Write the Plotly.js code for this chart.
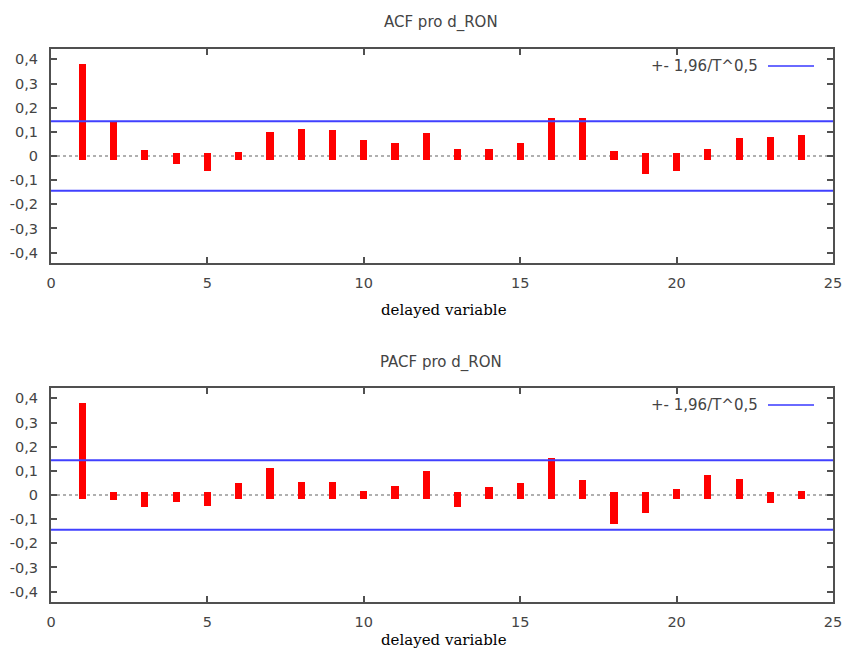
<!DOCTYPE html>
<html>
<head>
<meta charset="utf-8">
<script src="https://cdn.plot.ly/plotly-3.0.1.min.js"></script>
<style>html,body{margin:0;padding:0;background:#fff;}#chart{width:845px;height:650px;}</style>
</head>
<body>
<div id="chart"></div>
<script>
// ---- data ----
const lags = [1,2,3,4,5,6,7,8,9,10,11,12,13,14,15,16,17,18,19,20,21,22,23,24];
const acfValues = [0.365,0.130,0.010,-0.018,-0.048,0.003,0.086,0.098,0.093,0.052,0.040,0.081,
                   0.016,0.016,0.040,0.143,0.143,0.008,-0.059,-0.048,0.016,0.059,0.066,0.074];
const pacfValues = [0.366,-0.008,-0.035,-0.013,-0.030,0.034,0.099,0.040,0.040,0.003,0.023,0.086,
                    -0.035,0.018,0.035,0.140,0.046,-0.105,-0.058,0.011,0.070,0.050,-0.019,0.003];
const bound = 0.1435;          // +- 1,96/T^0,5
const titles = ['ACF pro d_RON', 'PACF pro d_RON'];
const xLabel = 'delayed variable';
const legendLabel = '+- 1,96/T^0,5';
const xTickVals = [0,5,10,15,20,25];
const yTickVals = [-0.4,-0.3,-0.2,-0.1,0,0.1,0.2,0.3,0.4];
const yTickText = ['-0,4','-0,3','-0,2','-0,1','0','0,1','0,2','0,3','0,4'];

// ---- styling ----
const W = 845, H = 650;
const cap = 0.0145;            // impulse line-cap overshoot
const px = (v) => v / W, py = (v) => 1 - v / H;
const plots = [
  {top: 49, bottom: 263, xs: 'x', ys: 'y', vals: acfValues, labelY: 310},
  {top: 388, bottom: 602, xs: 'x2', ys: 'y2', vals: pacfValues, labelY: 640}
];
const left = 51, right = 833;
const tickFont = {family: 'DejaVu Sans, sans-serif', size: 14.5, color: '#444'};
const textFont = {family: 'DejaVu Sans, sans-serif', size: 15, color: '#444'};

const traces = [];
const shapes = [];
const annotations = [];
const layout = {
  width: W, height: H,
  margin: {l: 0, r: 0, t: 0, b: 0},
  paper_bgcolor: '#fff', plot_bgcolor: '#fff',
  showlegend: false,
  bargap: 0
};

plots.forEach((p, i) => {
  const xa = i === 0 ? 'xaxis' : 'xaxis2';
  const ya = i === 0 ? 'yaxis' : 'yaxis2';
  const common = {
    showline: true, linewidth: 2, linecolor: '#505050', mirror: 'ticks',
    ticks: 'inside', ticklen: 6, tickwidth: 2, tickcolor: '#505050',
    showgrid: false, zeroline: false, tickfont: tickFont, fixedrange: true
  };
  layout[xa] = Object.assign({}, common, {
    domain: [px(left), px(right)], range: [0, 25],
    tickvals: xTickVals, ticktext: xTickVals.map(String),
    anchor: p.ys, ticklabelstandoff: 6
  });
  layout[ya] = Object.assign({}, common, {
    domain: [py(p.bottom), py(p.top)], range: [-0.443, 0.443],
    tickvals: yTickVals, ticktext: yTickText,
    anchor: p.xs, ticklabelstandoff: 8
  });

  traces.push({
    type: 'bar', x: lags,
    y: p.vals.map(v => v >= 0 ? v + 2 * cap : v - 2 * cap),
    base: p.vals.map(v => v >= 0 ? -cap : cap),
    width: 0.23,
    marker: {color: '#ff0000', line: {width: 0}},
    xaxis: p.xs, yaxis: p.ys, hoverinfo: 'skip'
  });

  // zero dotted line
  shapes.push({type: 'line', xref: p.xs + ' domain', yref: p.ys, x0: 0, x1: 1, y0: 0, y1: 0,
    line: {color: '#b0b0b0', width: 2, dash: 'dot'}, layer: 'below'});
  // confidence bounds
  [bound, -bound].forEach(b => shapes.push({type: 'line', xref: p.xs + ' domain', yref: p.ys,
    x0: 0, x1: 1, y0: b, y1: b, line: {color: '#4040ff', width: 2}, layer: 'above'}));

  // legend
  const ly = p.top + 17;
  shapes.push({type: 'line', xref: 'paper', yref: 'paper', x0: px(768), x1: px(814),
    y0: py(ly), y1: py(ly), line: {color: '#6a6aff', width: 2}});
  annotations.push({text: legendLabel, xref: 'paper', yref: 'paper', x: px(760), y: py(ly),
    xanchor: 'right', yanchor: 'middle', showarrow: false, font: textFont});

  // title
  annotations.push({text: titles[i], xref: 'paper', yref: 'paper', x: px(441), y: py(p.top - 26),
    xanchor: 'center', yanchor: 'middle', showarrow: false, font: textFont});
  // x label
  annotations.push({text: xLabel, xref: 'paper', yref: 'paper', x: px(444), y: py(p.labelY),
    xanchor: 'center', yanchor: 'middle', showarrow: false,
    font: {family: 'DejaVu Serif, serif', size: 15, color: '#000'}});
});

layout.shapes = shapes;
layout.annotations = annotations;

Plotly.newPlot('chart', traces, layout, {staticPlot: true, displayModeBar: false});
</script>
</body>
</html>
